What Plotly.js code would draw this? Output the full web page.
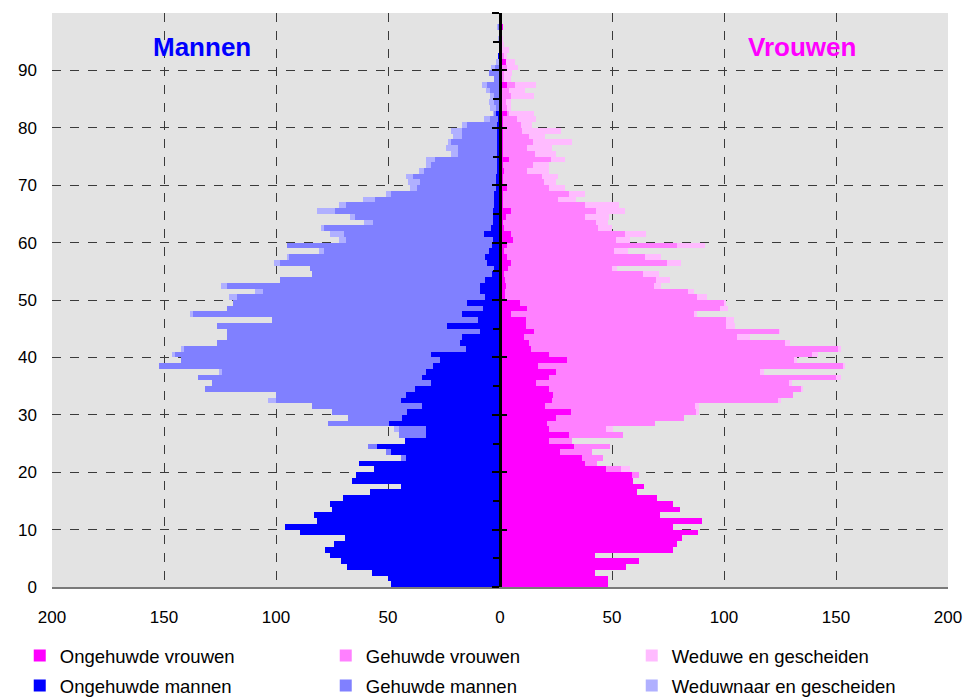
<!DOCTYPE html>
<html>
<head>
<meta charset="utf-8">
<script src="https://cdn.plot.ly/plotly-3.0.1.min.js"></script>
<style>
  html, body { margin: 0; padding: 0; background: #ffffff; }
  #chart { width: 969px; height: 698px; }
</style>
</head>
<body>
<div id="chart"></div>
<script>
// Ages 0..99
const ages = Array.from({length: 100}, (_, i) => i);

// Mannen (thousands)
const ongehuwdeMannen = [
  48.5, 50.1, 57.3, 68.3, 71.1, 76.0, 78.3, 74.3, 69.4, 89.3,
  96.2, 81.6, 83.2, 75.2, 76.0, 70.1, 58.2, 44.4, 66.2, 64.3,
  56.4, 63.1, 42.1, 48.8, 55.0, 42.5, 33.1, 33.1, 49.7, 43.9,
  41.3, 34.9, 44.3, 42.1, 38.0, 30.9, 34.9, 33.1, 29.8, 26.8,
  30.9, 15.2, 17.9, 17.0, 8.9, 23.7, 10.0, 17.0, 7.7, 14.8,
  6.7, 8.9, 8.9, 6.7, 3.7, 2.7, 5.7, 6.7, 4.8, 3.7,
  3.0, 7.2, 4.0, 3.0, 3.0, 3.0, 2.5, 2.5, 2.5, 2.0,
  2.0, 2.0, 1.5, 1.5, 1.5, 1.5, 1.5, 1.5, 1.5, 1.5,
  1.5, 1.0, 2.0, 0.5, 0.5, 0.5, 0.5, 0.5, 0.5, 0.5,
  0.5, 0, 1.0, 0, 0, 0, 0, 0, 0, 0
];
const gehuwdeMannen = [
  0, 0, 0, 0, 0, 0, 0, 0, 0, 0,
  0, 0, 0, 0, 0, 0, 0, 0, 0, 0,
  0, 0, 2.2, 2.2, 3.9, 0, 11.9, 11.9, 27.3, 24.1,
  33.9, 49.2, 55.9, 58.1, 93.5, 97.6, 100.1, 91.0, 122.3, 115.6,
  114.1, 125.7, 108.3, 105.1, 113.2, 102.5, 92.0, 119.9, 114.4, 104.2,
  110.5, 97.1, 113.2, 91.3, 80.4, 82.3, 92.3, 87.3, 73.9, 91.6,
  65.9, 62.6, 74.7, 53.8, 61.9, 70.8, 66.4, 53.4, 46.3, 35.1,
  33.8, 36.9, 32.5, 29.4, 27.6, 17.4, 17.4, 20.6, 15.5, 15.5,
  13.4, 3.5, 0.5, 1.5, 2.2, 2.0, 4.0, 5.5, 2.2, 4.3,
  1.7, 0, 0, 0.5, 0, 0, 0, 1.0, 0, 0
];
const weduwnaars = [
  0, 0, 0, 0, 0, 0, 0, 0, 0, 0,
  0, 0, 0, 0, 0, 0, 0, 0, 0, 0,
  0, 0, 0, 0, 0, 0, 0, 2.4, 0, 0,
  0, 0, 3.2, 0, 0, 0, 0, 1.2, 0, 0,
  1.3, 1.4, 0, 0, 0, 0, 0, 1.4, 0, 0,
  4.0, 3.2, 2.3, 0, 0, 0, 3.1, 1.3, 2.3, 0,
  3.1, 6.3, 1.4, 4.1, 2.2, 8.1, 3.1, 5.4, 2.2, 3.2,
  5.4, 3.2, 2.2, 2.2, 4.0, 3.2, 5.3, 1.2, 4.0, 5.1,
  2.1, 2.7, 0.5, 2.5, 2.1, 2.0, 1.8, 2.1, 0, 0,
  1.8, 2.0, 0, 0, 0.5, 1.0, 0, 0.5, 0, 0
];

// Vrouwen
const ongehuwdeVrouwen = [
  48.3, 48.3, 42.5, 56.2, 62.0, 42.5, 77.3, 79.0, 81.3, 88.4,
  77.3, 90.2, 71.4, 80.4, 77.3, 70.1, 61.2, 64.3, 59.4, 59.0,
  47.4, 37.9, 36.5, 26.8, 33.1, 21.9, 30.7, 21.9, 21.0, 25.1,
  31.8, 20.1, 23.3, 23.7, 21.9, 16.1, 21.9, 25.1, 17.1, 29.8,
  21.9, 13.9, 13.0, 10.7, 15.2, 11.6, 11.6, 4.9, 12.1, 8.9,
  2.2, 2.2, 2.7, 2.2, 1.8, 3.6, 4.9, 3.1, 1.8, 3.1,
  5.7, 4.9, 1.8, 1.5, 2.7, 4.9, 1.5, 1.5, 1.5, 3.1,
  1.5, 1.5, 1.8, 1.5, 4.0, 1.5, 1.5, 1.5, 1.5, 1.5,
  1.5, 1.5, 3.1, 1.0, 1.0, 1.0, 1.0, 3.1, 1.0, 1.0,
  1.0, 2.7, 1.0, 1.0, 0.5, 0.5, 0, 1.5, 0.5, 0.5
];
const gehuwdeVrouwen = [
  0, 0, 0, 0, 0, 0, 0, 0, 0, 0,
  0, 0, 0, 0, 0, 0, 0, 0, 0, 3.0,
  6.7, 5.5, 9.6, 14.4, 16.1, 10.3, 24.3, 25.5, 48.4, 57.2,
  55.9, 67.1, 100.8, 107.2, 112.3, 112.9, 128.0, 90.9, 136.1, 101.4,
  117.2, 136.9, 114.1, 95.3, 109.2, 89.5, 89.5, 81.9, 85.9, 90.9,
  85.9, 81.9, 66.2, 67.6, 62.2, 46.5, 69.8, 61.8, 49.2, 76.1,
  46.2, 51.0, 42.0, 41.5, 35.3, 38.1, 36.5, 24.5, 29.4, 18.8,
  18.2, 17.3, 10.3, 13.3, 18.8, 14.2, 10.6, 13.3, 11.5, 8.3,
  8.0, 6.0, 1.0, 2.0, 1.5, 4.0, 3.0, 3.6, 1.0, 1.0,
  2.0, 0, 1.0, 0, 0, 0, 0, 0, 0, 0
];
const weduwen = [
  0, 0, 0, 0, 0, 0, 0, 0, 0, 0,
  0, 0, 0, 0, 0, 0, 0, 0, 0, 0,
  4.1, 0, 0, 0, 0, 0, 0, 2.9, 0, 0,
  1.3, 1.8, 1.2, 0, 1.1, 1.2, 2.2, 2.0, 0.9, 1.2,
  3.0, 1.3, 2.2, 5.4, 0.5, 4.0, 3.2, 1.3, 4.0, 1.3,
  4.1, 2.3, 3.0, 6.1, 7.0, 2.2, 6.1, 7.0, 6.1, 12.1,
  6.3, 9.4, 6.3, 5.3, 10.8, 12.9, 15.2, 8.0, 7.1, 7.2,
  5.4, 7.2, 9.8, 7.1, 6.3, 9.4, 11.2, 17.4, 7.1, 17.5,
  5.0, 8.6, 11.0, 2.0, 2.5, 10.0, 7.0, 9.4, 3.0, 3.4,
  5.0, 4.0, 1.0, 3.0, 1.5, 1.0, 0.5, 0, 0, 0
];

const xTickVals = [-200, -150, -100, -50, 0, 50, 100, 150, 200];
const xTickText = ['200', '150', '100', '50', '0', '50', '100', '150', '200'];
const yTickVals = [0, 10, 20, 30, 40, 50, 60, 70, 80, 90, 100];
const yTickText = ['0', '10', '20', '30', '40', '50', '60', '70', '80', '90', ''];

const seriesNames = ['Ongehuwde vrouwen', 'Gehuwde vrouwen', 'Weduwe en gescheiden',
                     'Ongehuwde mannen', 'Gehuwde mannen', 'Weduwnaar en gescheiden'];
const seriesColors = ['#FF00FF', '#FF80FF', '#FFBBFF', '#0000FF', '#8080FF', '#B0B0FF'];
const seriesData = [ongehuwdeVrouwen, gehuwdeVrouwen, weduwen,
                    ongehuwdeMannen, gehuwdeMannen, weduwnaars];
const seriesSign = [1, 1, 1, -1, -1, -1];
const seriesLegend = ['legend', 'legend', 'legend', 'legend2', 'legend2', 'legend2'];

const yMid = ages.map(a => a + 0.5);
const traces = seriesData.map((arr, i) => ({
  type: 'bar',
  orientation: 'h',
  name: seriesNames[i],
  legend: seriesLegend[i],
  x: arr.map(v => v * seriesSign[i]),
  y: yMid,
  width: 1,
  marker: {color: seriesColors[i], line: {width: 0}},
  hoverinfo: 'skip'
}));

// overlay traces to attach center axes
traces.push({type: 'scatter', x: [0], y: [50], yaxis: 'y2', mode: 'markers',
  marker: {opacity: 0}, showlegend: false, hoverinfo: 'skip'});
traces.push({type: 'scatter', x: [0], y: [50], yaxis: 'y3', mode: 'markers',
  marker: {opacity: 0}, showlegend: false, hoverinfo: 'skip'});

const font = 'Liberation Sans, Arial, sans-serif';

const legendBase = {
  orientation: 'h',
  xref: 'paper',
  yref: 'paper',
  x: -0.036,
  xanchor: 'left',
  yanchor: 'middle',
  entrywidth: 261,
  entrywidthmode: 'pixels',
  traceorder: 'normal',
  font: {family: font, size: 18.5, color: '#000'},
  itemwidth: 30,
  bgcolor: 'rgba(0,0,0,0)',
  tracegroupgap: 0
};

const layout = {
  width: 969,
  height: 698,
  margin: {l: 52, r: 21, t: 13, b: 111, autoexpand: false},
  paper_bgcolor: '#FFFFFF',
  plot_bgcolor: '#E3E3E3',
  barmode: 'relative',
  bargap: 0,
  showlegend: true,
  font: {family: font, size: 17, color: '#000000'},
  xaxis: {
    range: [-200, 200],
    tickvals: xTickVals,
    ticktext: xTickText,
    showgrid: true,
    gridcolor: '#3A3A3A',
    griddash: 'dash',
    gridwidth: 1,
    zeroline: false,
    showline: true,
    linecolor: '#7A7A7A',
    linewidth: 2,
    ticks: '',
    ticklabelstandoff: 14,
    tickfont: {family: font, size: 17, color: '#000'},
    automargin: false,
    fixedrange: true
  },
  yaxis: {
    range: [0, 100],
    tickvals: yTickVals,
    ticktext: yTickText,
    showgrid: true,
    gridcolor: '#3A3A3A',
    griddash: 'dash',
    gridwidth: 1,
    zeroline: false,
    showline: false,
    ticks: '',
    ticklabelstandoff: 14,
    tickfont: {family: font, size: 17, color: '#000'},
    automargin: false,
    fixedrange: true
  },
  yaxis2: {
    overlaying: 'y',
    anchor: 'free',
    position: 0.5,
    side: 'left',
    range: [0, 100],
    dtick: 10,
    tick0: 0,
    showgrid: false,
    zeroline: false,
    showline: true,
    linecolor: '#000',
    linewidth: 3,
    ticks: 'outside',
    ticklen: 7,
    tickwidth: 2,
    tickcolor: '#000',
    showticklabels: false,
    minor: {dtick: 5, tick0: 0, ticks: 'outside', ticklen: 6, tickwidth: 2, tickcolor: '#000', showgrid: false},
    fixedrange: true
  },
  yaxis3: {
    overlaying: 'y',
    anchor: 'free',
    position: 0.5,
    side: 'left',
    range: [0, 100],
    dtick: 10,
    tick0: 0,
    showgrid: false,
    zeroline: false,
    showline: false,
    ticks: 'inside',
    ticklen: 6,
    tickwidth: 2,
    tickcolor: '#000',
    showticklabels: false,
    fixedrange: true
  },
  legend: Object.assign({}, legendBase, {y: -0.1202}),
  legend2: Object.assign({}, legendBase, {y: -0.1725}),
  annotations: [
    {x: -133, y: 94, xref: 'x', yref: 'y', text: '<b>Mannen</b>', showarrow: false,
     font: {family: font, size: 26, color: '#0000FF'}},
    {x: 135, y: 94, xref: 'x', yref: 'y', text: '<b>Vrouwen</b>', showarrow: false,
     font: {family: font, size: 26, color: '#FF00FF'}}
  ]
};

Plotly.newPlot('chart', traces, layout, {staticPlot: true, displayModeBar: false});
</script>
</body>
</html>
